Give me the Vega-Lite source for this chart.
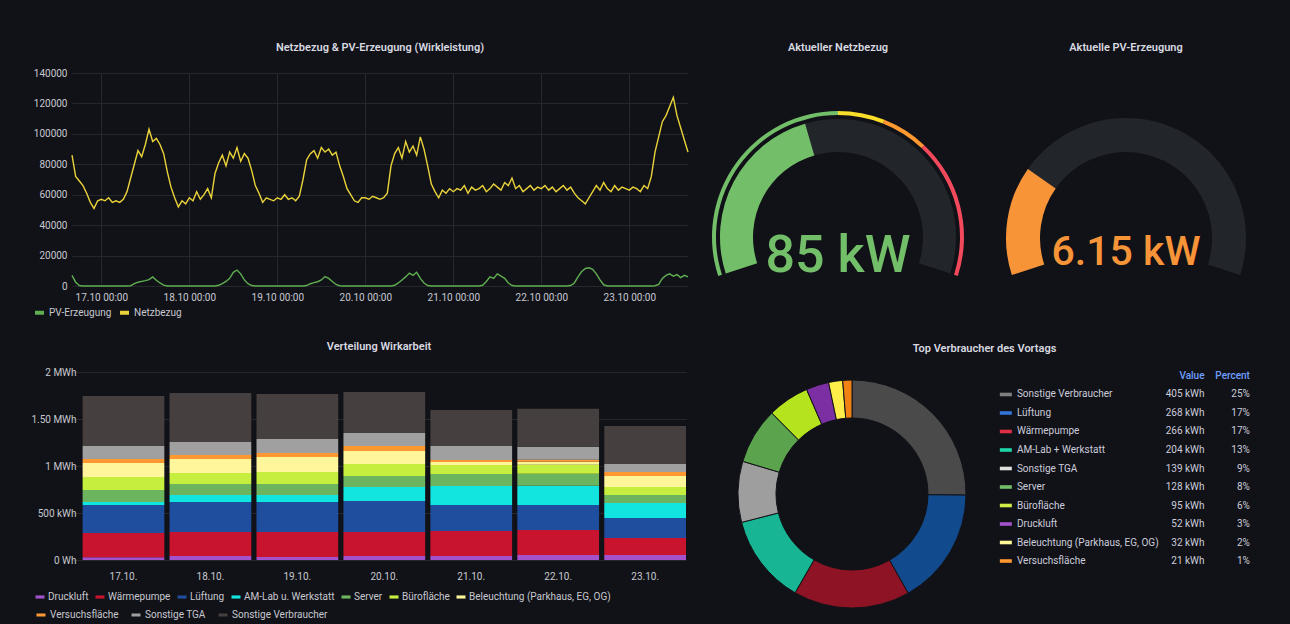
{
  "$schema": "https://vega.github.io/schema/vega-lite/v6.json",
  "background": "#111217",
  "padding": {"left": 30, "top": 42, "right": 23, "bottom": 5},
  "columns": 1,
  "align": "none",
  "spacing": 20,
  "datasets": {
    "leistung": [
      {"t":"2023-10-16T16:00","netz":86000,"pv":7000},{"t":"2023-10-16T17:00","netz":72000,"pv":2500},{"t":"2023-10-16T18:00","netz":69000,"pv":300},{"t":"2023-10-16T19:00","netz":66000,"pv":0},{"t":"2023-10-16T20:00","netz":61000,"pv":0},{"t":"2023-10-16T21:00","netz":55000,"pv":0},{"t":"2023-10-16T22:00","netz":51000,"pv":0},{"t":"2023-10-16T23:00","netz":56000,"pv":0},
      {"t":"2023-10-17T00:00","netz":57000,"pv":0},{"t":"2023-10-17T01:00","netz":56000,"pv":0},{"t":"2023-10-17T02:00","netz":58000,"pv":0},{"t":"2023-10-17T03:00","netz":55000,"pv":0},{"t":"2023-10-17T04:00","netz":56000,"pv":0},{"t":"2023-10-17T05:00","netz":55000,"pv":0},{"t":"2023-10-17T06:00","netz":57000,"pv":0},{"t":"2023-10-17T07:00","netz":62000,"pv":0},{"t":"2023-10-17T08:00","netz":71000,"pv":200},{"t":"2023-10-17T09:00","netz":80000,"pv":1500},{"t":"2023-10-17T10:00","netz":89000,"pv":2500},{"t":"2023-10-17T11:00","netz":85000,"pv":3000},{"t":"2023-10-17T12:00","netz":93000,"pv":3500},{"t":"2023-10-17T13:00","netz":103000,"pv":4200},{"t":"2023-10-17T14:00","netz":95000,"pv":6000},{"t":"2023-10-17T15:00","netz":97000,"pv":3800},{"t":"2023-10-17T16:00","netz":93000,"pv":2000},{"t":"2023-10-17T17:00","netz":87000,"pv":600},{"t":"2023-10-17T18:00","netz":75000,"pv":0},{"t":"2023-10-17T19:00","netz":65000,"pv":0},{"t":"2023-10-17T20:00","netz":58000,"pv":0},{"t":"2023-10-17T21:00","netz":52000,"pv":0},{"t":"2023-10-17T22:00","netz":56000,"pv":0},{"t":"2023-10-17T23:00","netz":54000,"pv":0},
      {"t":"2023-10-18T00:00","netz":58000,"pv":0},{"t":"2023-10-18T01:00","netz":56000,"pv":0},{"t":"2023-10-18T02:00","netz":62000,"pv":0},{"t":"2023-10-18T03:00","netz":57000,"pv":0},{"t":"2023-10-18T04:00","netz":60000,"pv":0},{"t":"2023-10-18T05:00","netz":64000,"pv":0},{"t":"2023-10-18T06:00","netz":58000,"pv":0},{"t":"2023-10-18T07:00","netz":74000,"pv":0},{"t":"2023-10-18T08:00","netz":81000,"pv":500},{"t":"2023-10-18T09:00","netz":86000,"pv":1500},{"t":"2023-10-18T10:00","netz":79000,"pv":3000},{"t":"2023-10-18T11:00","netz":88000,"pv":5000},{"t":"2023-10-18T12:00","netz":84000,"pv":9000},{"t":"2023-10-18T13:00","netz":91000,"pv":10500},{"t":"2023-10-18T14:00","netz":82000,"pv":8000},{"t":"2023-10-18T15:00","netz":87000,"pv":4000},{"t":"2023-10-18T16:00","netz":84000,"pv":1500},{"t":"2023-10-18T17:00","netz":76000,"pv":300},{"t":"2023-10-18T18:00","netz":66000,"pv":0},{"t":"2023-10-18T19:00","netz":61000,"pv":0},{"t":"2023-10-18T20:00","netz":55000,"pv":0},{"t":"2023-10-18T21:00","netz":58000,"pv":0},{"t":"2023-10-18T22:00","netz":57000,"pv":0},{"t":"2023-10-18T23:00","netz":56000,"pv":0},
      {"t":"2023-10-19T00:00","netz":58000,"pv":0},{"t":"2023-10-19T01:00","netz":57000,"pv":0},{"t":"2023-10-19T02:00","netz":60000,"pv":0},{"t":"2023-10-19T03:00","netz":57000,"pv":0},{"t":"2023-10-19T04:00","netz":58000,"pv":0},{"t":"2023-10-19T05:00","netz":56000,"pv":0},{"t":"2023-10-19T06:00","netz":59000,"pv":0},{"t":"2023-10-19T07:00","netz":70000,"pv":0},{"t":"2023-10-19T08:00","netz":83000,"pv":300},{"t":"2023-10-19T09:00","netz":87000,"pv":1500},{"t":"2023-10-19T10:00","netz":89000,"pv":2200},{"t":"2023-10-19T11:00","netz":84000,"pv":2800},{"t":"2023-10-19T12:00","netz":91000,"pv":4000},{"t":"2023-10-19T13:00","netz":88000,"pv":6200},{"t":"2023-10-19T14:00","netz":90000,"pv":5000},{"t":"2023-10-19T15:00","netz":86000,"pv":3000},{"t":"2023-10-19T16:00","netz":88000,"pv":1000},{"t":"2023-10-19T17:00","netz":79000,"pv":200},{"t":"2023-10-19T18:00","netz":72000,"pv":0},{"t":"2023-10-19T19:00","netz":64000,"pv":0},{"t":"2023-10-19T20:00","netz":60000,"pv":0},{"t":"2023-10-19T21:00","netz":56000,"pv":0},{"t":"2023-10-19T22:00","netz":55000,"pv":0},{"t":"2023-10-19T23:00","netz":58000,"pv":0},
      {"t":"2023-10-20T00:00","netz":58000,"pv":0},{"t":"2023-10-20T01:00","netz":57000,"pv":0},{"t":"2023-10-20T02:00","netz":59000,"pv":0},{"t":"2023-10-20T03:00","netz":58000,"pv":0},{"t":"2023-10-20T04:00","netz":57000,"pv":0},{"t":"2023-10-20T05:00","netz":58000,"pv":0},{"t":"2023-10-20T06:00","netz":61000,"pv":0},{"t":"2023-10-20T07:00","netz":79000,"pv":0},{"t":"2023-10-20T08:00","netz":87000,"pv":500},{"t":"2023-10-20T09:00","netz":91000,"pv":2000},{"t":"2023-10-20T10:00","netz":84000,"pv":4000},{"t":"2023-10-20T11:00","netz":95000,"pv":6000},{"t":"2023-10-20T12:00","netz":88000,"pv":8500},{"t":"2023-10-20T13:00","netz":92000,"pv":7000},{"t":"2023-10-20T14:00","netz":86000,"pv":9000},{"t":"2023-10-20T15:00","netz":98000,"pv":5000},{"t":"2023-10-20T16:00","netz":90000,"pv":2000},{"t":"2023-10-20T17:00","netz":79000,"pv":300},{"t":"2023-10-20T18:00","netz":67000,"pv":0},{"t":"2023-10-20T19:00","netz":62000,"pv":0},{"t":"2023-10-20T20:00","netz":58000,"pv":0},{"t":"2023-10-20T21:00","netz":63000,"pv":0},{"t":"2023-10-20T22:00","netz":61000,"pv":0},{"t":"2023-10-20T23:00","netz":64000,"pv":0},
      {"t":"2023-10-21T00:00","netz":62000,"pv":0},{"t":"2023-10-21T01:00","netz":64000,"pv":0},{"t":"2023-10-21T02:00","netz":63000,"pv":0},{"t":"2023-10-21T03:00","netz":66000,"pv":0},{"t":"2023-10-21T04:00","netz":61000,"pv":0},{"t":"2023-10-21T05:00","netz":65000,"pv":0},{"t":"2023-10-21T06:00","netz":63000,"pv":0},{"t":"2023-10-21T07:00","netz":64000,"pv":0},{"t":"2023-10-21T08:00","netz":66000,"pv":500},{"t":"2023-10-21T09:00","netz":62000,"pv":3000},{"t":"2023-10-21T10:00","netz":64000,"pv":6000},{"t":"2023-10-21T11:00","netz":67000,"pv":5000},{"t":"2023-10-21T12:00","netz":65000,"pv":8000},{"t":"2023-10-21T13:00","netz":63000,"pv":6500},{"t":"2023-10-21T14:00","netz":68000,"pv":5000},{"t":"2023-10-21T15:00","netz":66000,"pv":2000},{"t":"2023-10-21T16:00","netz":71000,"pv":300},{"t":"2023-10-21T17:00","netz":64000,"pv":0},{"t":"2023-10-21T18:00","netz":66000,"pv":0},{"t":"2023-10-21T19:00","netz":62000,"pv":0},{"t":"2023-10-21T20:00","netz":64000,"pv":0},{"t":"2023-10-21T21:00","netz":66000,"pv":0},{"t":"2023-10-21T22:00","netz":63000,"pv":0},{"t":"2023-10-21T23:00","netz":65000,"pv":0},
      {"t":"2023-10-22T00:00","netz":64000,"pv":0},{"t":"2023-10-22T01:00","netz":66000,"pv":0},{"t":"2023-10-22T02:00","netz":63000,"pv":0},{"t":"2023-10-22T03:00","netz":65000,"pv":0},{"t":"2023-10-22T04:00","netz":62000,"pv":0},{"t":"2023-10-22T05:00","netz":64000,"pv":0},{"t":"2023-10-22T06:00","netz":66000,"pv":0},{"t":"2023-10-22T07:00","netz":63000,"pv":0},{"t":"2023-10-22T08:00","netz":65000,"pv":300},{"t":"2023-10-22T09:00","netz":61000,"pv":2000},{"t":"2023-10-22T10:00","netz":58000,"pv":6000},{"t":"2023-10-22T11:00","netz":56000,"pv":9500},{"t":"2023-10-22T12:00","netz":54000,"pv":11500},{"t":"2023-10-22T13:00","netz":58000,"pv":12000},{"t":"2023-10-22T14:00","netz":62000,"pv":11000},{"t":"2023-10-22T15:00","netz":66000,"pv":8000},{"t":"2023-10-22T16:00","netz":63000,"pv":4000},{"t":"2023-10-22T17:00","netz":68000,"pv":800},{"t":"2023-10-22T18:00","netz":64000,"pv":0},{"t":"2023-10-22T19:00","netz":62000,"pv":0},{"t":"2023-10-22T20:00","netz":66000,"pv":0},{"t":"2023-10-22T21:00","netz":63000,"pv":0},{"t":"2023-10-22T22:00","netz":65000,"pv":0},{"t":"2023-10-22T23:00","netz":64000,"pv":0},
      {"t":"2023-10-23T00:00","netz":63000,"pv":0},{"t":"2023-10-23T01:00","netz":65000,"pv":0},{"t":"2023-10-23T02:00","netz":64000,"pv":0},{"t":"2023-10-23T03:00","netz":62000,"pv":0},{"t":"2023-10-23T04:00","netz":66000,"pv":0},{"t":"2023-10-23T05:00","netz":64000,"pv":0},{"t":"2023-10-23T06:00","netz":72000,"pv":0},{"t":"2023-10-23T07:00","netz":88000,"pv":200},{"t":"2023-10-23T08:00","netz":98000,"pv":1000},{"t":"2023-10-23T09:00","netz":108000,"pv":5000},{"t":"2023-10-23T10:00","netz":112000,"pv":7000},{"t":"2023-10-23T11:00","netz":118000,"pv":8000},{"t":"2023-10-23T12:00","netz":124000,"pv":6500},{"t":"2023-10-23T13:00","netz":112000,"pv":7500},{"t":"2023-10-23T14:00","netz":104000,"pv":5500},{"t":"2023-10-23T15:00","netz":96000,"pv":7000},{"t":"2023-10-23T16:00","netz":88000,"pv":6000}
    ],
    "netz_band": [{"teil":"Rest","von":0,"bis":200},{"teil":"Wert","von":0,"bis":85}],
    "netz_schwellen": [{"stufe":"gruen","von":0,"bis":100},{"stufe":"gelb","von":100,"bis":120},{"stufe":"orange","von":120,"bis":140},{"stufe":"rot","von":140,"bis":200}],
    "netz_text": [{"anzeige":"85 kW"}],
    "pv_band": [{"teil":"Rest","von":0,"bis":25},{"teil":"Wert","von":0,"bis":6.15}],
    "pv_text": [{"anzeige":"6.15 kW"}],
    "wirkarbeit": [
      {"tag":"17.10.","verbraucher":"Druckluft","rang":1,"kwh":30},{"tag":"17.10.","verbraucher":"Wärmepumpe","rang":2,"kwh":257},{"tag":"17.10.","verbraucher":"Lüftung","rang":3,"kwh":298},{"tag":"17.10.","verbraucher":"AM-Lab u. Werkstatt","rang":4,"kwh":32},{"tag":"17.10.","verbraucher":"Server","rang":5,"kwh":128},{"tag":"17.10.","verbraucher":"Bürofläche","rang":6,"kwh":138},{"tag":"17.10.","verbraucher":"Beleuchtung (Parkhaus, EG, OG)","rang":7,"kwh":149},{"tag":"17.10.","verbraucher":"Versuchsfläche","rang":8,"kwh":43},{"tag":"17.10.","verbraucher":"Sonstige TGA","rang":9,"kwh":138},{"tag":"17.10.","verbraucher":"Sonstige Verbraucher","rang":10,"kwh":532},
      {"tag":"18.10.","verbraucher":"Druckluft","rang":1,"kwh":43},{"tag":"18.10.","verbraucher":"Wärmepumpe","rang":2,"kwh":255},{"tag":"18.10.","verbraucher":"Lüftung","rang":3,"kwh":319},{"tag":"18.10.","verbraucher":"AM-Lab u. Werkstatt","rang":4,"kwh":75},{"tag":"18.10.","verbraucher":"Server","rang":5,"kwh":117},{"tag":"18.10.","verbraucher":"Bürofläche","rang":6,"kwh":117},{"tag":"18.10.","verbraucher":"Beleuchtung (Parkhaus, EG, OG)","rang":7,"kwh":149},{"tag":"18.10.","verbraucher":"Versuchsfläche","rang":8,"kwh":42},{"tag":"18.10.","verbraucher":"Sonstige TGA","rang":9,"kwh":138},{"tag":"18.10.","verbraucher":"Sonstige Verbraucher","rang":10,"kwh":522},
      {"tag":"19.10.","verbraucher":"Druckluft","rang":1,"kwh":32},{"tag":"19.10.","verbraucher":"Wärmepumpe","rang":2,"kwh":266},{"tag":"19.10.","verbraucher":"Lüftung","rang":3,"kwh":319},{"tag":"19.10.","verbraucher":"AM-Lab u. Werkstatt","rang":4,"kwh":75},{"tag":"19.10.","verbraucher":"Server","rang":5,"kwh":117},{"tag":"19.10.","verbraucher":"Bürofläche","rang":6,"kwh":127},{"tag":"19.10.","verbraucher":"Beleuchtung (Parkhaus, EG, OG)","rang":7,"kwh":160},{"tag":"19.10.","verbraucher":"Versuchsfläche","rang":8,"kwh":42},{"tag":"19.10.","verbraucher":"Sonstige TGA","rang":9,"kwh":149},{"tag":"19.10.","verbraucher":"Sonstige Verbraucher","rang":10,"kwh":479},
      {"tag":"20.10.","verbraucher":"Druckluft","rang":1,"kwh":43},{"tag":"20.10.","verbraucher":"Wärmepumpe","rang":2,"kwh":255},{"tag":"20.10.","verbraucher":"Lüftung","rang":3,"kwh":330},{"tag":"20.10.","verbraucher":"AM-Lab u. Werkstatt","rang":4,"kwh":149},{"tag":"20.10.","verbraucher":"Server","rang":5,"kwh":117},{"tag":"20.10.","verbraucher":"Bürofläche","rang":6,"kwh":127},{"tag":"20.10.","verbraucher":"Beleuchtung (Parkhaus, EG, OG)","rang":7,"kwh":139},{"tag":"20.10.","verbraucher":"Versuchsfläche","rang":8,"kwh":53},{"tag":"20.10.","verbraucher":"Sonstige TGA","rang":9,"kwh":138},{"tag":"20.10.","verbraucher":"Sonstige Verbraucher","rang":10,"kwh":437},
      {"tag":"21.10.","verbraucher":"Druckluft","rang":1,"kwh":43},{"tag":"21.10.","verbraucher":"Wärmepumpe","rang":2,"kwh":266},{"tag":"21.10.","verbraucher":"Lüftung","rang":3,"kwh":276},{"tag":"21.10.","verbraucher":"AM-Lab u. Werkstatt","rang":4,"kwh":202},{"tag":"21.10.","verbraucher":"Server","rang":5,"kwh":128},{"tag":"21.10.","verbraucher":"Bürofläche","rang":6,"kwh":96},{"tag":"21.10.","verbraucher":"Beleuchtung (Parkhaus, EG, OG)","rang":7,"kwh":32},{"tag":"21.10.","verbraucher":"Versuchsfläche","rang":8,"kwh":21},{"tag":"21.10.","verbraucher":"Sonstige TGA","rang":9,"kwh":149},{"tag":"21.10.","verbraucher":"Sonstige Verbraucher","rang":10,"kwh":383},
      {"tag":"22.10.","verbraucher":"Druckluft","rang":1,"kwh":52},{"tag":"22.10.","verbraucher":"Wärmepumpe","rang":2,"kwh":266},{"tag":"22.10.","verbraucher":"Lüftung","rang":3,"kwh":268},{"tag":"22.10.","verbraucher":"AM-Lab u. Werkstatt","rang":4,"kwh":204},{"tag":"22.10.","verbraucher":"Server","rang":5,"kwh":128},{"tag":"22.10.","verbraucher":"Bürofläche","rang":6,"kwh":95},{"tag":"22.10.","verbraucher":"Beleuchtung (Parkhaus, EG, OG)","rang":7,"kwh":32},{"tag":"22.10.","verbraucher":"Versuchsfläche","rang":8,"kwh":21},{"tag":"22.10.","verbraucher":"Sonstige TGA","rang":9,"kwh":139},{"tag":"22.10.","verbraucher":"Sonstige Verbraucher","rang":10,"kwh":405},
      {"tag":"23.10.","verbraucher":"Druckluft","rang":1,"kwh":53},{"tag":"23.10.","verbraucher":"Wärmepumpe","rang":2,"kwh":181},{"tag":"23.10.","verbraucher":"Lüftung","rang":3,"kwh":213},{"tag":"23.10.","verbraucher":"AM-Lab u. Werkstatt","rang":4,"kwh":159},{"tag":"23.10.","verbraucher":"Server","rang":5,"kwh":86},{"tag":"23.10.","verbraucher":"Bürofläche","rang":6,"kwh":85},{"tag":"23.10.","verbraucher":"Beleuchtung (Parkhaus, EG, OG)","rang":7,"kwh":117},{"tag":"23.10.","verbraucher":"Versuchsfläche","rang":8,"kwh":42},{"tag":"23.10.","verbraucher":"Sonstige TGA","rang":9,"kwh":85},{"tag":"23.10.","verbraucher":"Sonstige Verbraucher","rang":10,"kwh":405}
    ],
    "vortag": [
      {"cat":"Sonstige Verbraucher","kwh":405,"wert":"405 kWh","anteil":"25%"},
      {"cat":"Lüftung","kwh":268,"wert":"268 kWh","anteil":"17%"},
      {"cat":"Wärmepumpe","kwh":266,"wert":"266 kWh","anteil":"17%"},
      {"cat":"AM-Lab + Werkstatt","kwh":204,"wert":"204 kWh","anteil":"13%"},
      {"cat":"Sonstige TGA","kwh":139,"wert":"139 kWh","anteil":"9%"},
      {"cat":"Server","kwh":128,"wert":"128 kWh","anteil":"8%"},
      {"cat":"Bürofläche","kwh":95,"wert":"95 kWh","anteil":"6%"},
      {"cat":"Druckluft","kwh":52,"wert":"52 kWh","anteil":"3%"},
      {"cat":"Beleuchtung (Parkhaus, EG, OG)","kwh":32,"wert":"32 kWh","anteil":"2%"},
      {"cat":"Versuchsfläche","kwh":21,"wert":"21 kWh","anteil":"1%"}
    ]
  },
  "resolve": {"scale": {"color": "independent", "fill": "independent", "stroke": "independent", "theta": "independent", "x": "independent", "y": "independent"}, "legend": {"color": "independent", "fill": "independent", "stroke": "independent"}},
  "concat": [
    {
      "spacing": 16,
      "resolve": {"scale": {"color": "independent", "theta": "independent", "x": "independent", "y": "independent"}, "legend": {"color": "independent"}},
      "hconcat": [
        {
          "width": 616, "height": 213,
          "title": {"text": "Netzbezug & PV-Erzeugung (Wirkleistung)", "offset": 15},
          "data": {"name": "leistung"},
          "transform": [{"fold": ["pv", "netz"], "as": ["serie", "w"]}],
          "mark": {"type": "line", "strokeWidth": 1.4},
          "encoding": {
            "x": {"field": "t", "type": "temporal", "scale": {"nice": false},
                  "axis": {"format": "%d.%m %H:%M", "tickCount": {"interval": "day", "step": 1}, "grid": true, "labelPadding": 6, "title": null, "labelFlush": false}},
            "y": {"field": "w", "type": "quantitative", "scale": {"domain": [0, 140000], "nice": false},
                  "axis": {"values": [0, 20000, 40000, 60000, 80000, 100000, 120000, 140000], "format": "d", "labelPadding": 5, "title": null, "grid": true}},
            "color": {"field": "serie", "type": "nominal",
                      "scale": {"domain": ["pv", "netz"], "range": ["#5FAE50", "#EAD33A"]},
                      "legend": {"orient": "none", "legendX": -39, "legendY": 233, "direction": "horizontal", "title": null,
                                 "labelExpr": "datum.label == 'pv' ? 'PV-Erzeugung' : 'Netzbezug'",
                                 "symbolType": "stroke", "symbolStrokeWidth": 4, "symbolSize": 81, "columnPadding": 0, "labelOffset": 3}}
          }
        },
        {
          "width": 262, "height": 220,
          "title": {"text": "Aktueller Netzbezug", "offset": 20},
          "layer": [
            {
              "data": {"name": "netz_band"},
              "mark": {"type": "arc", "radius": 118, "radius2": 85},
              "encoding": {
                "theta": {"field": "von", "type": "quantitative", "stack": null, "scale": {"domain": [0, 200], "range": [-1.885, 1.885]}},
                "theta2": {"field": "bis"},
                "y": {"datum": 0.2545, "type": "quantitative", "scale": {"domain": [0, 1]}, "axis": null},
                "color": {"field": "teil", "type": "nominal", "scale": {"domain": ["Rest", "Wert", "gruen", "gelb", "orange", "rot"], "range": ["#22252A", "#73BF69", "#73BF69", "#FADE2A", "#FF9830", "#F2495C"]}, "legend": null}
              }
            },
            {
              "data": {"name": "netz_schwellen"},
              "mark": {"type": "arc", "radius": 126, "radius2": 122},
              "encoding": {
                "theta": {"field": "von", "type": "quantitative", "stack": null},
                "theta2": {"field": "bis"},
                "y": {"datum": 0.2545, "type": "quantitative", "axis": null},
                "color": {"field": "stufe", "type": "nominal", "legend": null}
              }
            },
            {
              "data": {"name": "netz_text"},
              "mark": {"type": "text", "fontSize": 52, "fontWeight": 500, "color": "#73BF69", "baseline": "alphabetic", "align": "center"},
              "encoding": {
                "text": {"field": "anzeige"},
                "y": {"datum": 0.0955, "type": "quantitative", "axis": null}
              }
            }
          ]
        },
        {
          "width": 282, "height": 220,
          "title": {"text": "Aktuelle PV-Erzeugung", "offset": 20},
          "layer": [
            {
              "data": {"name": "pv_band"},
              "mark": {"type": "arc", "radius": 120, "radius2": 86},
              "encoding": {
                "theta": {"field": "von", "type": "quantitative", "stack": null, "scale": {"domain": [0, 25], "range": [-1.885, 1.885]}},
                "theta2": {"field": "bis"},
                "y": {"datum": 0.25, "type": "quantitative", "scale": {"domain": [0, 1]}, "axis": null},
                "color": {"field": "teil", "type": "nominal", "scale": {"domain": ["Rest", "Wert"], "range": ["#22252A", "#F79438"]}, "legend": null}
              }
            },
            {
              "data": {"name": "pv_text"},
              "mark": {"type": "text", "fontSize": 41, "fontWeight": 500, "color": "#F79438", "baseline": "alphabetic", "align": "center"},
              "encoding": {
                "text": {"field": "anzeige"},
                "y": {"datum": 0.127, "type": "quantitative", "axis": null}
              }
            }
          ]
        }
      ]
    },
    {
      "spacing": 46,
      "resolve": {"scale": {"color": "independent", "fill": "independent", "stroke": "independent", "theta": "independent", "x": "independent", "y": "independent"}, "legend": {"color": "independent", "fill": "independent", "stroke": "independent"}},
      "hconcat": [
        {
          "width": 614, "height": 188,
          "title": {"text": "Verteilung Wirkarbeit", "offset": 15},
          "data": {"name": "wirkarbeit"},
          "mark": {"type": "bar", "strokeWidth": 0},
          "encoding": {
            "x": {"field": "tag", "type": "nominal", "scale": {"paddingInner": 0.06, "paddingOuter": 0.061, "align": 1},
                  "axis": {"labelAngle": 0, "labelPadding": 11, "title": null, "grid": false}},
            "y": {"field": "kwh", "type": "quantitative", "stack": "zero", "scale": {"domain": [0, 2000], "nice": false},
                  "axis": {"values": [0, 500, 1000, 1500, 2000], "labelPadding": 3, "offset": -7, "title": null, "grid": true,
                           "labelExpr": "datum.value == 0 ? '0 Wh' : datum.value < 1000 ? datum.value + ' kWh' : datum.value == 1500 ? '1.50 MWh' : (datum.value / 1000) + ' MWh'"}},
            "order": {"field": "rang", "type": "quantitative", "sort": "ascending"},
            "fill": {"field": "verbraucher", "type": "nominal",
                     "scale": {"domain": ["Druckluft", "Wärmepumpe", "Lüftung", "AM-Lab u. Werkstatt", "Server", "Bürofläche", "Beleuchtung (Parkhaus, EG, OG)", "Versuchsfläche", "Sonstige TGA", "Sonstige Verbraucher"],
                               "range": ["#A352CC", "#C8142E", "#1F4E9E", "#12E5E0", "#6CB45E", "#C6EE3E", "#FFF59A", "#FF9830", "#A0A0A0", "#45403F"]},
                     "legend": {"orient": "none", "legendX": -37, "legendY": 220, "direction": "horizontal", "title": null,
                                "values": ["Druckluft", "Wärmepumpe", "Lüftung", "AM-Lab u. Werkstatt", "Server", "Bürofläche", "Beleuchtung (Parkhaus, EG, OG)"],
                                "symbolType": "M-1,-0.35H1V0.35H-1Z", "symbolSize": 81, "symbolStrokeWidth": 0, "columnPadding": 6, "labelOffset": 3, "labelLimit": 300}},
            "stroke": {"field": "verbraucher", "type": "nominal",
                       "scale": {"domain": ["Versuchsfläche", "Sonstige TGA", "Sonstige Verbraucher"], "range": ["#FF9830", "#A0A0A0", "#45403F"]},
                       "legend": {"orient": "none", "legendX": -37, "legendY": 237, "direction": "horizontal", "title": null,
                                  "symbolType": "stroke", "symbolStrokeWidth": 3, "symbolSize": 81, "columnPadding": 6, "labelOffset": 3}}
          }
        },
        {
          "title": {"text": "Top Verbraucher des Vortags", "anchor": "middle", "offset": 17, "dx": -8},
          "spacing": 23,
          "resolve": {"scale": {"color": "independent", "theta": "independent", "x": "independent", "y": "independent"}, "legend": {"color": "independent"}},
          "hconcat": [
            {
              "width": 240, "height": 244,
              "data": {"name": "vortag"},
              "mark": {"type": "arc", "radius": 114, "radius2": 76, "stroke": "#111217", "strokeWidth": 1},
              "encoding": {
                "theta": {"field": "kwh", "type": "quantitative", "stack": true},
                "order": {"field": "kwh", "type": "quantitative", "sort": "descending"},
                "color": {"field": "cat", "type": "nominal",
                          "scale": {"domain": ["Sonstige Verbraucher", "Lüftung", "Wärmepumpe", "AM-Lab + Werkstatt", "Sonstige TGA", "Server", "Bürofläche", "Druckluft", "Beleuchtung (Parkhaus, EG, OG)", "Versuchsfläche"],
                                    "range": ["#4A4A4A", "#124A8E", "#8E1324", "#17B594", "#9E9E9E", "#5BA34C", "#B5E41F", "#7B2FA3", "#FFEE4A", "#F08214"]},
                          "legend": null}
              }
            },
            {
              "width": 258, "height": 193,
              "data": {"name": "vortag"},
              "encoding": {
                "y": {"field": "cat", "type": "nominal",
                      "scale": {"type": "point", "padding": 0.216, "domain": ["kopf", "Sonstige Verbraucher", "Lüftung", "Wärmepumpe", "AM-Lab + Werkstatt", "Sonstige TGA", "Server", "Bürofläche", "Druckluft", "Beleuchtung (Parkhaus, EG, OG)", "Versuchsfläche"]},
                      "axis": null}
              },
              "layer": [
                {
                  "mark": {"type": "point", "shape": "M-1,-0.3H1V0.3H-1Z", "size": 144, "filled": true, "opacity": 1},
                  "encoding": {
                    "x": {"datum": 0.042, "type": "quantitative", "scale": {"domain": [0, 1]}, "axis": null},
                    "color": {"field": "cat", "type": "nominal",
                              "scale": {"domain": ["Sonstige Verbraucher", "Lüftung", "Wärmepumpe", "AM-Lab + Werkstatt", "Sonstige TGA", "Server", "Bürofläche", "Druckluft", "Beleuchtung (Parkhaus, EG, OG)", "Versuchsfläche"],
                                        "range": ["#808080", "#3274D9", "#E02F44", "#1ED6A8", "#E0E0E0", "#73BF69", "#D4EE48", "#A352CC", "#FFF899", "#FF9830"]},
                              "legend": null}
                  }
                },
                {
                  "mark": {"type": "text", "align": "left", "baseline": "middle", "fontSize": 10, "color": "#CCCCDC"},
                  "encoding": {"x": {"datum": 0.085, "type": "quantitative", "axis": null}, "text": {"field": "cat"}}
                },
                {
                  "mark": {"type": "text", "align": "right", "baseline": "middle", "fontSize": 10, "color": "#CCCCDC"},
                  "encoding": {"x": {"datum": 0.812, "type": "quantitative", "axis": null}, "text": {"field": "wert"}}
                },
                {
                  "mark": {"type": "text", "align": "right", "baseline": "middle", "fontSize": 10, "color": "#CCCCDC"},
                  "encoding": {"x": {"datum": 0.988, "type": "quantitative", "axis": null}, "text": {"field": "anteil"}}
                },
                {
                  "data": {"values": [{"h": "Value"}]},
                  "mark": {"type": "text", "align": "right", "baseline": "middle", "fontSize": 10, "fontWeight": 500, "color": "#6E9FFF"},
                  "encoding": {"x": {"datum": 0.812, "type": "quantitative", "axis": null}, "y": {"datum": "kopf", "type": "nominal", "axis": null}, "text": {"field": "h"}}
                },
                {
                  "data": {"values": [{"h": "Percent"}]},
                  "mark": {"type": "text", "align": "right", "baseline": "middle", "fontSize": 10, "fontWeight": 500, "color": "#6E9FFF"},
                  "encoding": {"x": {"datum": 0.988, "type": "quantitative", "axis": null}, "y": {"datum": "kopf", "type": "nominal", "axis": null}, "text": {"field": "h"}}
                }
              ]
            }
          ]
        }
      ]
    }
  ],
  "config": {
    "font": "Roboto",
    "view": {"stroke": null},
    "axis": {"labelColor": "#C7C8D0", "labelFont": "Roboto", "labelFontSize": 10, "domain": false, "ticks": false, "gridColor": "#25272D", "gridWidth": 1},
    "title": {"color": "#D8D9E0", "font": "Roboto", "fontSize": 11, "fontWeight": 600},
    "legend": {"labelColor": "#C7C8D0", "labelFont": "Roboto", "labelFontSize": 10}
  }
}
